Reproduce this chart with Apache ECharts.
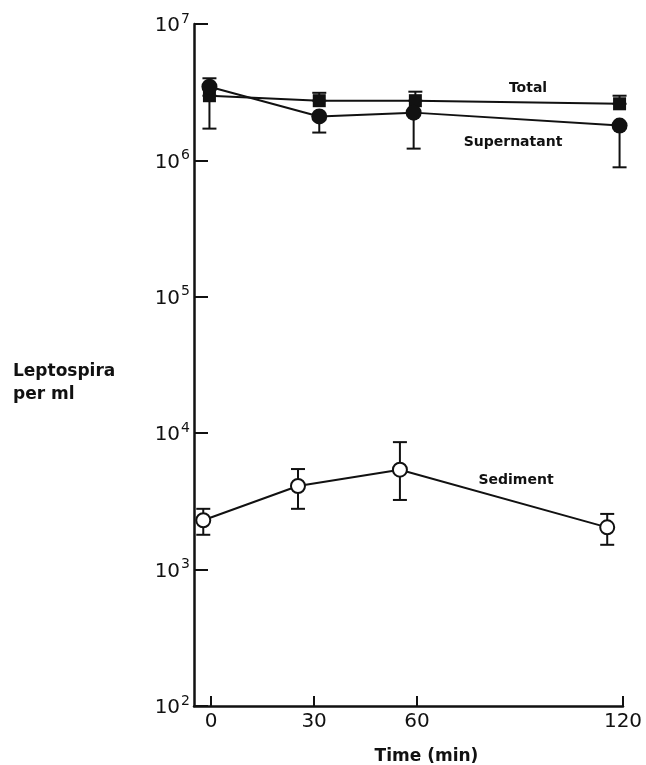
<!DOCTYPE html>
<html>
<head>
<meta charset="utf-8">
<script src="https://cdn.jsdelivr.net/npm/echarts@6/dist/echarts.min.js"></script>
<style>
  html, body { margin: 0; padding: 0; background: #fff; }
  #chart { width: 646px; height: 765px; }
</style>
</head>
<body>
<div id="chart"></div>
<script>
// time ticks shown on the x axis (min)
var timeTicks = [0, 30, 60, 120];

// Total (filled squares): time, count, upper error
var totalTime = [-0.5, 31.5, 59.5, 119];
var totalVal = [2.98e6, 2.74e6, 2.74e6, 2.6e6];
var totalHigh = [4.0e6, 3.13e6, 3.19e6, 2.98e6];

// Supernatant (filled circles): time, count, lower error
var superTime = [-0.5, 31.5, 59, 119];
var superVal = [3.47e6, 2.1e6, 2.24e6, 1.8e6];
var superLow = [1.71e6, 1.6e6, 1.22e6, 0.89e6];

// Sediment (open circles): time, count, lower / upper error
var sedTime = [-2.3, 25.3, 55, 115.4];
var sedVal = [2.3e3, 4.1e3, 5.4e3, 2.04e3];
var sedLow = [1.8e3, 2.79e3, 3.24e3, 1.52e3];
var sedHigh = [2.79e3, 5.46e3, 8.6e3, 2.56e3];

var FONT = "DejaVu Sans";

function pairs(xs, ys) {
  var out = [];
  for (var i = 0; i < xs.length; i++) out.push([xs[i], ys[i]]);
  return out;
}
function errData(xs, lo, hi) {
  var out = [];
  for (var i = 0; i < xs.length; i++) out.push([xs[i], lo[i], hi[i]]);
  return out;
}

// draws a vertical whisker with caps
function renderErr(params, api) {
  var x = api.value(0);
  var lo = api.coord([x, api.value(1)]);
  var hi = api.coord([x, api.value(2)]);
  var cap = 7;
  var st = { stroke: "#111", lineWidth: 2 };
  return {
    type: "group",
    children: [
      { type: "line", shape: { x1: lo[0], y1: lo[1], x2: hi[0], y2: hi[1] }, style: st },
      { type: "line", shape: { x1: lo[0] - cap, y1: lo[1], x2: lo[0] + cap, y2: lo[1] }, style: st },
      { type: "line", shape: { x1: hi[0] - cap, y1: hi[1], x2: hi[0] + cap, y2: hi[1] }, style: st }
    ]
  };
}

var myChart = echarts.init(document.getElementById("chart"), null, { renderer: "canvas" });

var option = {
  animation: false,
  backgroundColor: "#fff",
  grid: { left: 194, right: 23, top: 24, bottom: 59, outerBoundsMode: "none" },
  xAxis: {
    type: "value",
    min: -5,
    max: 120,
    splitLine: { show: false },
    axisLine: { show: true, onZero: false, lineStyle: { color: "#111", width: 2.5 } },
    axisTick: {
      show: true,
      inside: true,
      length: 10,
      customValues: timeTicks,
      lineStyle: { color: "#111", width: 2 }
    },
    axisLabel: {
      customValues: timeTicks,
      color: "#111",
      fontFamily: FONT,
      fontSize: 20,
      margin: 6
    },
    name: "Time (min)",
    nameLocation: "middle",
    nameGap: 42,
    nameTextStyle: { color: "#111", fontFamily: FONT, fontSize: 17, fontWeight: "bold", padding: [0, 0, 0, 36] }
  },
  yAxis: {
    type: "log",
    logBase: 10,
    min: 100,
    max: 1e7,
    splitLine: { show: false },
    axisLine: { show: true, onZero: false, lineStyle: { color: "#111", width: 2.5 } },
    axisTick: { show: true, inside: true, length: 14, lineStyle: { color: "#111", width: 2 } },
    axisLabel: {
      margin: 4,
      formatter: function (v) {
        var e = Math.round(Math.log(v) / Math.LN10);
        return "{b|10}{s|" + e + "}";
      },
      rich: {
        b: { fontFamily: FONT, fontSize: 20, color: "#111", verticalAlign: "bottom" },
        s: { fontFamily: FONT, fontSize: 14, color: "#111", verticalAlign: "top", padding: [0, 0, 10, 1] }
      }
    }
  },
  graphic: [
    { type: "text", left: 13, top: 360, style: { text: "Leptospira\nper ml", font: "bold 17px DejaVu Sans", fill: "#111", lineHeight: 23 } },
    { type: "text", x: 528, y: 88, style: { text: "Total", font: "bold 14px DejaVu Sans", fill: "#111", align: "center", verticalAlign: "middle" } },
    { type: "text", x: 513, y: 142, style: { text: "Supernatant", font: "bold 14px DejaVu Sans", fill: "#111", align: "center", verticalAlign: "middle" } },
    { type: "text", x: 516, y: 480, style: { text: "Sediment", font: "bold 14px DejaVu Sans", fill: "#111", align: "center", verticalAlign: "middle" } }
  ],
  series: [
    {
      name: "Total err",
      type: "custom",
      renderItem: renderErr,
      data: errData(totalTime, totalVal, totalHigh),
      z: 1
    },
    {
      name: "Supernatant err",
      type: "custom",
      renderItem: renderErr,
      data: errData(superTime, superLow, superVal),
      z: 1
    },
    {
      name: "Sediment err",
      type: "custom",
      renderItem: renderErr,
      data: errData(sedTime, sedLow, sedHigh),
      z: 1
    },
    {
      name: "Total",
      type: "line",
      data: pairs(totalTime, totalVal),
      symbol: "rect",
      symbolSize: 13,
      lineStyle: { color: "#111", width: 2 },
      itemStyle: { color: "#111" },
      z: 3
    },
    {
      name: "Supernatant",
      type: "line",
      data: pairs(superTime, superVal),
      symbol: "circle",
      symbolSize: 16,
      lineStyle: { color: "#111", width: 2 },
      itemStyle: { color: "#111" },
      z: 3
    },
    {
      name: "Sediment",
      type: "line",
      data: pairs(sedTime, sedVal),
      symbol: "circle",
      symbolSize: 14,
      showAllSymbol: true,
      lineStyle: { color: "#111", width: 2 },
      itemStyle: { color: "#fff", borderColor: "#111", borderWidth: 2 },
      z: 3
    }
  ]
};

myChart.setOption(option);
</script>
</body>
</html>
